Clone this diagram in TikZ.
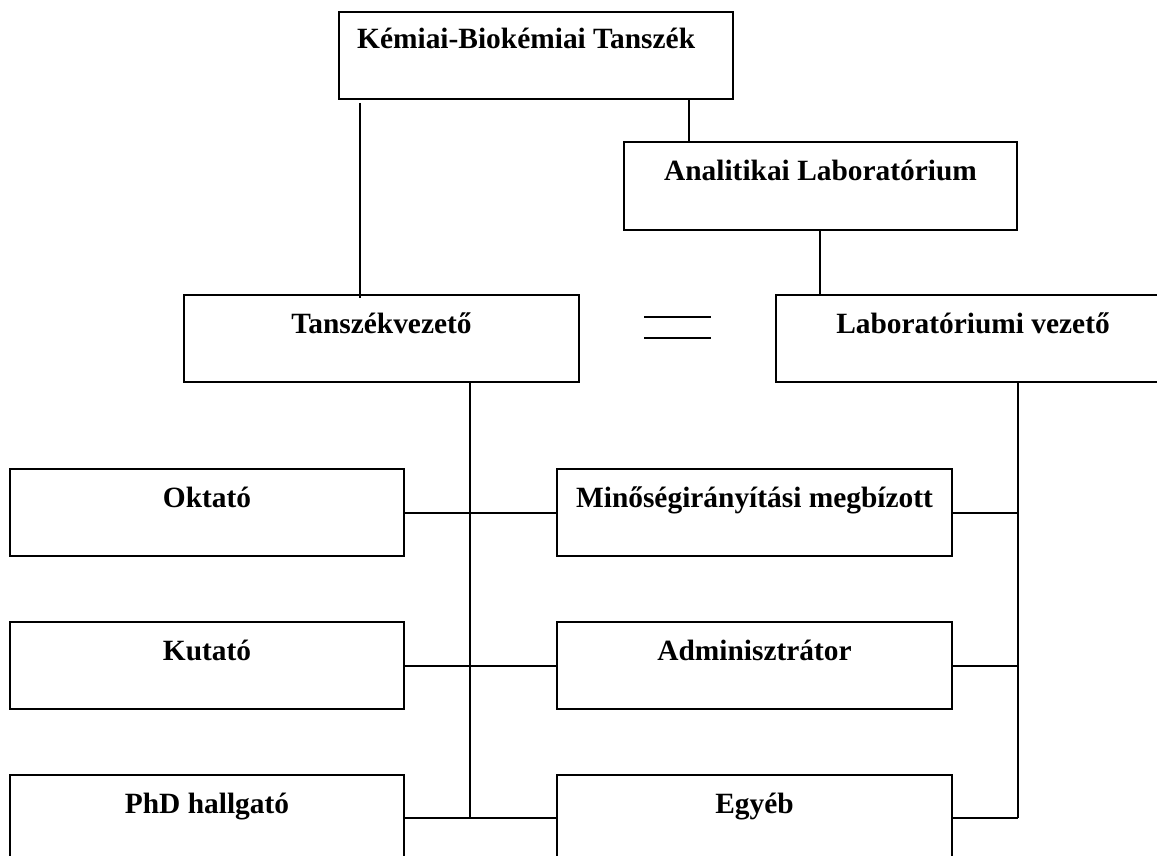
\documentclass[tikz,border=0pt]{standalone}
\usepackage{fontspec}
\setmainfont{Liberation Serif}
\begin{document}
\begin{tikzpicture}[x=1pt,y=-1pt,
  box/.style={draw=black, line width=1.8pt, fill=white, minimum width=#1, minimum height=87pt, inner sep=0pt, outer sep=0pt, anchor=north west},
  box/.default=394pt,
  lbl/.style={font=\fontsize{29.4}{32}\selectfont\bfseries, inner sep=0pt, anchor=base},
  vline/.style={line width=1.1pt},
  hline/.style={line width=1.7pt}]
\useasboundingbox (0,0) rectangle (1157,856);
\clip (0,0) rectangle (1157,856);
\fill[white] (0,0) rectangle (1157,856);
% boxes
\node[box] (top) at (339,12) {};
\node[box=393pt, minimum height=88pt] (anal) at (624,142) {};
\node[box=395pt] (tv) at (184,295) {};
\node[box] (lv) at (776,295) {};
\node[box] (okt) at (10,469) {};
\node[box=395pt] (min) at (557,469) {};
\node[box] (kut) at (10,622) {};
\node[box=395pt] (adm) at (557,622) {};
\node[box] (phd) at (10,775) {};
\node[box=395pt] (egy) at (557,775) {};
% labels
\node[lbl, anchor=base west] at ([xshift=18pt,yshift=-37pt]top.north west) {Kémiai-Biokémiai Tanszék};
\node[lbl] at ([yshift=-38pt]anal.north) {Analitikai Laboratórium};
\node[lbl] at ([yshift=-38pt]tv.north) {Tanszékvezető};
\node[lbl] at (973,333) {Laboratóriumi vezető};
\node[lbl] at ([yshift=-38pt]okt.north) {Oktató};
\node[lbl] at ([yshift=-38pt]min.north) {Minőségirányítási megbízott};
\node[lbl] at ([yshift=-38pt]kut.north) {Kutató};
\node[lbl] at ([yshift=-38pt]adm.north) {Adminisztrátor};
\node[lbl] at ([yshift=-38pt]phd.north) {PhD hallgató};
\node[lbl] at ([yshift=-38pt]egy.north) {Egyéb};
% connector junctions
\coordinate (lspine) at (470,818);
\coordinate (rspine) at (1018,818);
% vertical connectors
\draw[vline] ([yshift=-4pt]top.south -| 360,0) -- ([yshift=-3pt]tv.north -| 360,0);
\draw[vline] (top.south -| 689,0) -- (anal.north -| 689,0);
\draw[vline] (anal.south -| 820,0) -- (lv.north -| 820,0);
\draw[vline] (tv.south -| lspine) -- (lspine);
\draw[vline] (lv.south -| rspine) -- (rspine);
% horizontal connectors
\foreach \l/\r/\y in {okt/min/513, kut/adm/666, phd/egy/818}{
  \draw[hline] (\l.east |- 0,\y) -- (\r.west |- 0,\y);
  \draw[hline] (\r.east |- 0,\y) -- (rspine |- 0,\y);
}
% equals sign
\coordinate (eqa) at (644,317);
\coordinate (eqb) at (711,317);
\coordinate (eqc) at (644,338);
\coordinate (eqd) at (711,338);
\draw[hline, line width=1.5pt] (eqa) -- (eqb);
\draw[hline, line width=1.5pt] (eqc) -- (eqd);
\end{tikzpicture}
\end{document}
